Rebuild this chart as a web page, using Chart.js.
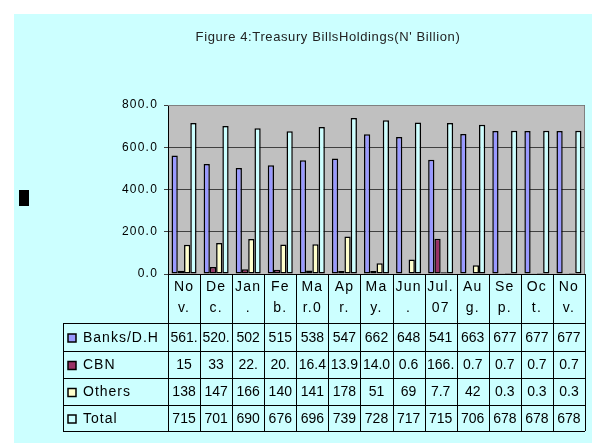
<!DOCTYPE html>
<html>
<head>
<meta charset="utf-8">
<script src="https://cdn.jsdelivr.net/npm/chart.js@4.4.0/dist/chart.umd.min.js"></script>
<style>
  html, body { margin: 0; padding: 0; background: #fff; }
  #wrap { width: 592px; height: 443px; }
</style>
</head>
<body>
<div id="wrap"><canvas id="chart" width="592" height="443"></canvas></div>
<script>
// month labels, two lines each, as printed in the data table header
const months = [["No", "v."], ["De", "c."], ["Jan", "."], ["Fe", "b."], ["Ma", "r.0"], ["Ap", "r."],
  ["Ma", "y."], ["Jun", "."], ["Jul.", "07"], ["Au", "g."], ["Se", "p."], ["Oc", "t."], ["No", "v."]];

const banks = [561.5, 520.6, 502, 515, 538, 547, 662, 648, 541, 663, 677, 677, 677];
const cbn = [15, 33, 22.3, 20.6, 16.4, 13.9, 14.0, 0.6, 166.3, 0.7, 0.7, 0.7, 0.7];
const others = [138, 147, 166, 140, 141, 178, 51, 69, 7.7, 42, 0.3, 0.3, 0.3];
const total = [715, 701, 690, 676, 696, 739, 728, 717, 715, 706, 678, 678, 678];

// table text as it shows in the cells (cut off where the cell is too narrow)
const banksText = ["561.", "520.", "502", "515", "538", "547", "662", "648", "541", "663", "677", "677", "677"];
const cbnText = ["15", "33", "22.", "20.", "16.4", "13.9", "14.0", "0.6", "166.", "0.7", "0.7", "0.7", "0.7"];
const othersText = ["138", "147", "166", "140", "141", "178", "51", "69", "7.7", "42", "0.3", "0.3", "0.3"];
const totalText = ["715", "701", "690", "676", "696", "739", "728", "717", "715", "706", "678", "678", "678"];

const seriesNames = ["Banks/D.H", "CBN", "Others", "Total"];
const seriesColors = ["#9999FF", "#993366", "#FFFFCC", "#CCFFFF"];
const yMax = 800;
const yStep = 200;

const titleText = "Figure 4:Treasury BillsHoldings(N' Billion)";
const rowLines = [323, 351, 378, 405, 431];

const tablePlugin = {
  id: "tablePlugin",
  beforeDraw(chart) {
    const ctx = chart.ctx;
    const a = chart.chartArea;
    ctx.save();
    ctx.fillStyle = "#fff";
    ctx.fillRect(0, 0, chart.width, chart.height);
    ctx.fillStyle = "#CCFFFF";
    ctx.fillRect(14, 14, chart.width - 14, chart.height - 14);
    ctx.fillStyle = "#C0C0C0";
    ctx.fillRect(a.left, a.top, a.right - a.left, a.bottom - a.top);
    ctx.restore();
    // the axis labels in the original are loosely spaced
    ctx.letterSpacing = "1.2px";
  },
  beforeDatasetsDraw(chart) {
    chart.ctx.letterSpacing = "0px";
  },
  afterDraw(chart) {
    const ctx = chart.ctx;
    const a = chart.chartArea;
    const x = chart.scales.x;
    const half = (x.getPixelForValue(1) - x.getPixelForValue(0)) / 2;
    const texts = [banksText, cbnText, othersText, totalText];
    const tableLeft = 63;

    ctx.save();
    ctx.letterSpacing = "0px";
    // plot frame top/right
    ctx.strokeStyle = "#808080";
    ctx.lineWidth = 1;
    ctx.beginPath();
    ctx.moveTo(a.left, a.top + 0.5);
    ctx.lineTo(a.right - 0.5, a.top + 0.5);
    ctx.lineTo(a.right - 0.5, a.bottom);
    ctx.stroke();

    // table grid
    ctx.strokeStyle = "#000";
    ctx.beginPath();
    for (let i = 0; i <= months.length; i++) {
      const px = Math.round(x.getPixelForValue(i) - half) + 0.5;
      ctx.moveTo(px, a.bottom);
      ctx.lineTo(px, rowLines[rowLines.length - 1]);
    }
    rowLines.forEach((ry) => {
      ctx.moveTo(tableLeft, ry + 0.5);
      ctx.lineTo(a.right, ry + 0.5);
    });
    ctx.moveTo(tableLeft + 0.5, rowLines[0]);
    ctx.lineTo(tableLeft + 0.5, rowLines[rowLines.length - 1]);
    ctx.stroke();

    // row labels with legend keys, and values
    ctx.textBaseline = "middle";
    for (let r = 0; r < 4; r++) {
      const cy = (rowLines[r] + rowLines[r + 1]) / 2 + 1;
      ctx.fillStyle = seriesColors[r];
      ctx.fillRect(68, cy - 4, 8, 8);
      ctx.strokeStyle = "#000";
      ctx.lineWidth = 1.5;
      ctx.strokeRect(68, cy - 4, 8, 8);
      ctx.fillStyle = "#000";
      ctx.font = "14px Arial, 'Liberation Sans'";
      ctx.letterSpacing = "1px";
      ctx.textAlign = "left";
      ctx.fillText(seriesNames[r], 83, cy);
      ctx.letterSpacing = "0px";
      ctx.textAlign = "center";
      texts[r].forEach((t, i) => {
        ctx.fillText(t, x.getPixelForValue(i), cy);
      });
    }

    // title
    ctx.font = "13px Arial, 'Liberation Sans'";
    ctx.letterSpacing = "0.6px";
    ctx.textAlign = "center";
    ctx.fillStyle = "#222";
    ctx.fillText(titleText, 328, 37);
    ctx.letterSpacing = "0px";

    // stray black block left of the chart
    ctx.fillStyle = "#000";
    ctx.fillRect(19, 190, 10, 16);
    ctx.restore();
  }
};

new Chart(document.getElementById("chart"), {
  type: "bar",
  data: {
    labels: months,
    datasets: seriesNames.map((name, i) => ({
      label: name,
      data: [banks, cbn, others, total][i],
      backgroundColor: seriesColors[i],
      borderColor: "#000",
      borderWidth: 1.5,
      borderSkipped: false,
      categoryPercentage: 0.78,
      barPercentage: 1.0,
    })),
  },
  options: {
    responsive: false,
    animation: false,
    layout: { padding: { left: 0, right: 7, top: 105, bottom: 120 } },
    plugins: {
      legend: { display: false },
      title: { display: false },
      tooltip: { enabled: false },
    },
    scales: {
      x: {
        grid: { drawOnChartArea: false, drawTicks: false },
        border: { display: true, color: "#000", width: 1 },
        ticks: {
          color: "#000",
          padding: 3,
          autoSkip: false,
          maxRotation: 0,
          font: { family: "Arial, 'Liberation Sans'", size: 14, lineHeight: 1.5 },
        },
        afterFit: (scale) => {
          scale.height = 49;
        },
      },
      y: {
        min: 0,
        max: yMax,
        grid: { color: "#404040", tickLength: 4 },
        border: { display: true, color: "#000", width: 1 },
        ticks: {
          stepSize: yStep,
          padding: 6,
          color: "#000",
          font: { family: "Arial, 'Liberation Sans'", size: 12 },
          callback: (v) => v.toFixed(1),
        },
        afterFit: (scale) => {
          scale.width = 168;
        },
      },
    },
  },
  plugins: [tablePlugin],
});
</script>
</body>
</html>
